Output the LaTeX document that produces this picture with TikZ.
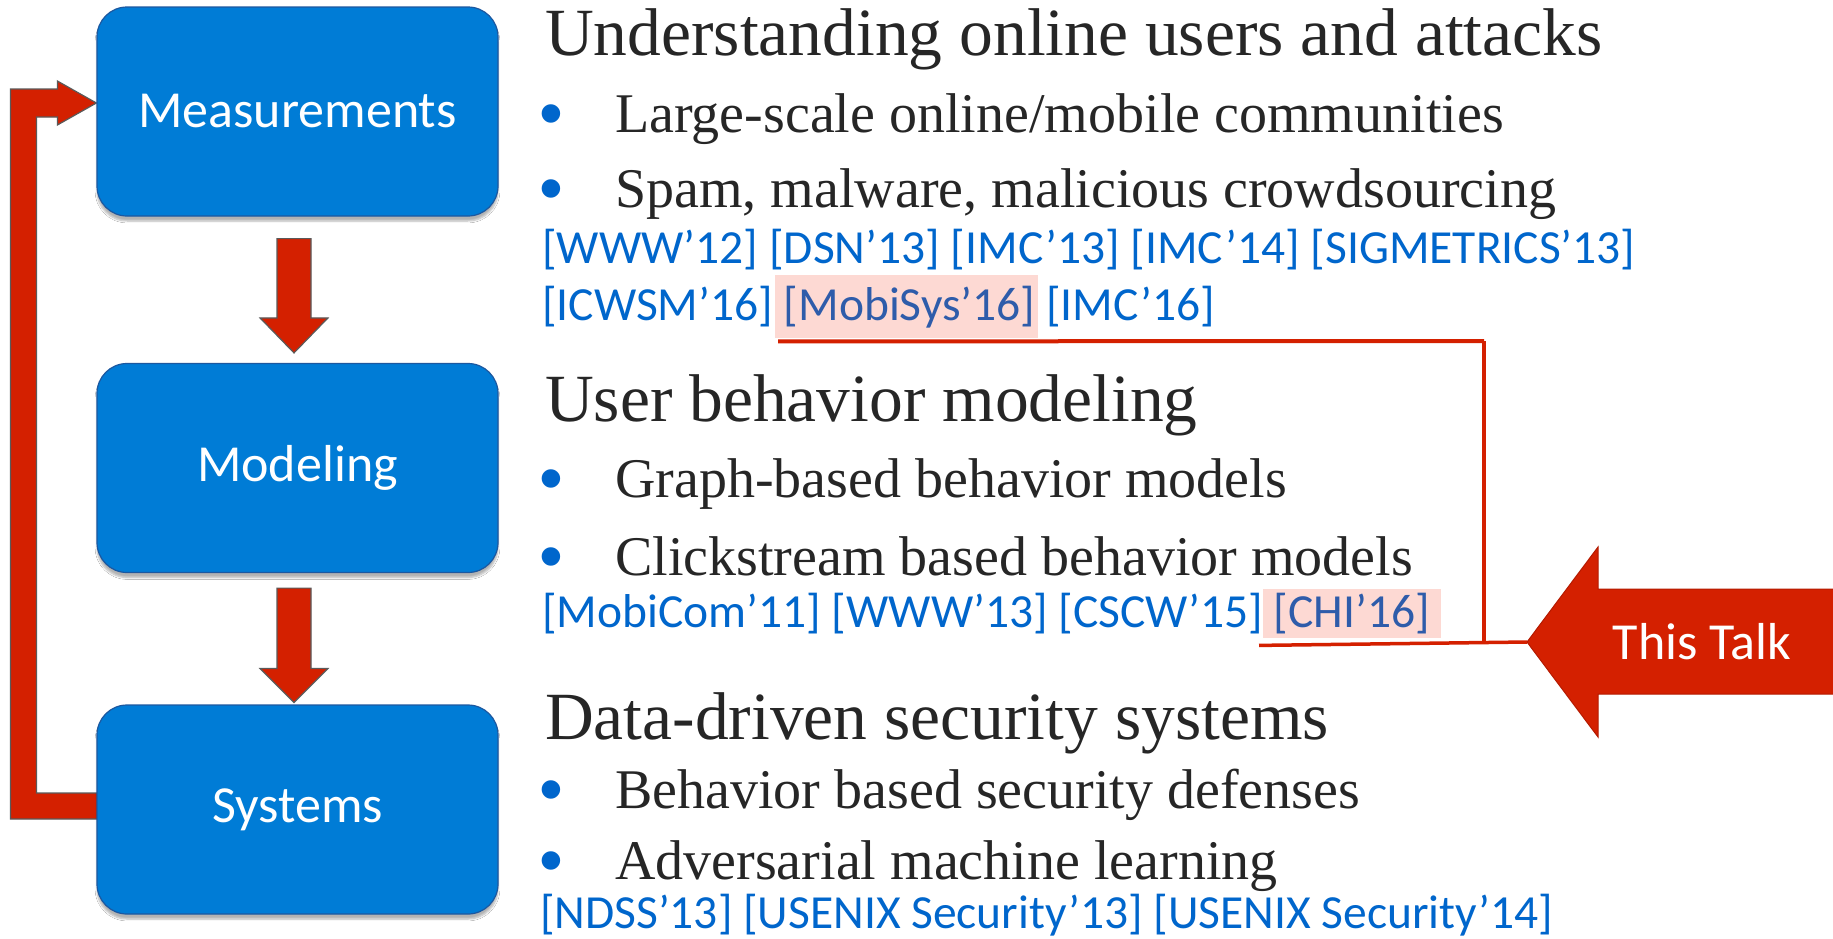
\documentclass[tikz,border=0pt]{standalone}
\usepackage{fontspec}
\setmainfont{Liberation Serif}
\newfontfamily\calfont{Carlito}
\newfontfamily\bulfont{Liberation Sans}
\usetikzlibrary{calc,shadows.blur,backgrounds}

\definecolor{boxblue}{RGB}{0,124,214}
\definecolor{boxedge}{RGB}{28,88,160}
\definecolor{arrowred}{RGB}{212,32,0}
\definecolor{arrowedge}{RGB}{90,90,90}
\definecolor{talkedge}{RGB}{180,26,0}
\definecolor{citeblue}{RGB}{0,102,204}
\definecolor{hiblue}{RGB}{46,92,170}
\definecolor{hipink}{RGB}{253,217,211}
\definecolor{bodytext}{RGB}{38,38,38}

\begin{document}
\begin{tikzpicture}[x=1pt,y=-1pt,
  stage/.style={draw=boxedge, line width=1.2pt, fill=boxblue, rounded corners=30pt,
    minimum width=401pt, minimum height=209pt, inner sep=0pt, text=white,
    font=\calfont\fontsize{52}{60}\selectfont,
    blur shadow={shadow xshift=0pt, shadow yshift=-5pt, shadow opacity=30, shadow blur steps=6}},
  blockarrow/.style={fill=arrowred, draw=arrowedge, line width=1.2pt, line join=miter},
  talkarrow/.style={fill=arrowred, draw=talkedge, line width=1pt},
  redline/.style={draw=arrowred, line width=4pt},
  heading/.style={anchor=base west, inner sep=0pt, text=bodytext, font=\fontsize{67.5}{80}\selectfont},
  item/.style={anchor=base west, inner sep=0pt, text=bodytext, font=\fontsize{56}{66}\selectfont},
  cite/.style={anchor=base west, inner sep=0pt, text=citeblue, font=\calfont\fontsize{47.5}{56}\selectfont},
  dot/.style={anchor=base, inner sep=0pt, text=citeblue, font=\bulfont\fontsize{68}{76}\selectfont},
  hilite/.style={fill=hipink, draw=none, inner sep=0pt, anchor=north west},
  talktext/.style={inner sep=0pt, text=white, font=\calfont\fontsize{52}{60}\selectfont}]

\useasboundingbox (0,0) rectangle (1833,938);

% the three stages
\node[stage] (meas) at (297.5,111.5) {Measurements};
\node[stage] (mod)  at (297.5,468)   {Modeling};
\node[stage] (sys)  at (297.5,809.5) {Systems};

% white page and the feedback loop from Systems back to Measurements, behind the stages
\begin{scope}[on background layer]
\fill[white] (0,0) rectangle (1833,938);
\draw[blockarrow]
  ($(sys.west)+(4,-16.5)$) -- ($(sys.west)+(-60,-16.5)$) -- ($(meas.west)+(-60,5.5)$)
  -- ($(meas.west)+(-39,5.5)$) -- ($(meas.west)+(-39,13.5)$) -- ($(meas.west)+(0,-8.5)$)
  -- ($(meas.west)+(-39,-30.5)$) -- ($(meas.west)+(-39,-22.5)$) -- ($(meas.west)+(-86,-22.5)$)
  -- ($(sys.west)+(-86,9.5)$) -- ($(sys.west)+(4,9.5)$);
\end{scope}

% downward block arrows between stages
\draw[blockarrow]
  ($(meas.south)+(-20.5,22)$) -- ($(meas.south)+(13.5,22)$) -- ($(mod.north)+(13.5,-45)$)
  -- ($(mod.north)+(30.5,-45)$) -- ($(mod.north)+(-3.5,-10)$) -- ($(mod.north)+(-37.5,-45)$)
  -- ($(mod.north)+(-20.5,-45)$) -- cycle;
\draw[blockarrow]
  ($(mod.south)+(-20.5,15)$) -- ($(mod.south)+(13.5,15)$) -- ($(sys.north)+(13.5,-36)$)
  -- ($(sys.north)+(30.5,-36)$) -- ($(sys.north)+(-3.5,-2)$) -- ($(sys.north)+(-37.5,-36)$)
  -- ($(sys.north)+(-20.5,-36)$) -- cycle;

% highlighted citations
\node[hilite, minimum width=263pt, minimum height=63pt] (mobisys) at (775,275) {};
\node[hilite, minimum width=178pt, minimum height=49pt] (chi) at (1263,589) {};

% "This Talk" pointer
\coordinate (tip) at (1527,642);
\draw[talkarrow] (tip) -- (1598,547) -- (1598,589) -- (1845,589) -- (1845,694)
  -- (1598,694) -- (1598,737) -- cycle;
\node[talktext] (talk) at (1702,642) {This Talk};

% connectors from the highlighted citations to the pointer
\coordinate (j) at (1484,341);
\draw[redline] ($(mobisys.south west)+(3,3)$) -- (j);
\draw[draw=arrowred, line width=3.5pt] (j) -- (j |- tip);
\draw[draw=arrowred, line width=3.5pt] ($(chi.south west)+(-4,7)$) -- (tip);

% first stage text
\node[heading] (h1) at (545,55) {Understanding online users and attacks};
\node[dot] (d1) at (551,136) {•};
\node[item] (i1) at (615,132) {Large-scale online/mobile communities};
\node[dot] (d2) at (551,211) {•};
\node[item] (i2) at (615,207) {Spam, malware, malicious crowdsourcing};
\node[cite] (c1) at (542,263) {[WWW’12] [DSN’13] [IMC’13] [IMC’14] [SIGMETRICS’13]};
\node[cite] (c2) at (542,320) {[ICWSM’16] \textcolor{hiblue}{[MobiSys’16]} [IMC’16]};

% second stage text
\node[heading] (h2) at (545,421) {User behavior modeling};
\node[dot] (d3) at (551,501) {•};
\node[item] (i3) at (615,497) {Graph-based behavior models};
\node[dot] (d4) at (551,579) {•};
\node[item] (i4) at (615,575) {Clickstream based behavior models};
\node[cite] (c3) at (542,627) {[MobiCom’11] [WWW’13] [CSCW’15] \textcolor{hiblue}{[CHI’16]}};

% third stage text
\node[heading] (h3) at (545,739) {Data-driven security systems};
\node[dot] (d5) at (551,812) {•};
\node[item] (i5) at (615,808) {Behavior based security defenses};
\node[dot] (d6) at (551,883) {•};
\node[item] (i6) at (615,879) {Adversarial machine learning};
\node[cite] (c4) at (540,928) {[NDSS’13] [USENIX Security’13] [USENIX Security’14]};
\end{tikzpicture}
\end{document}
